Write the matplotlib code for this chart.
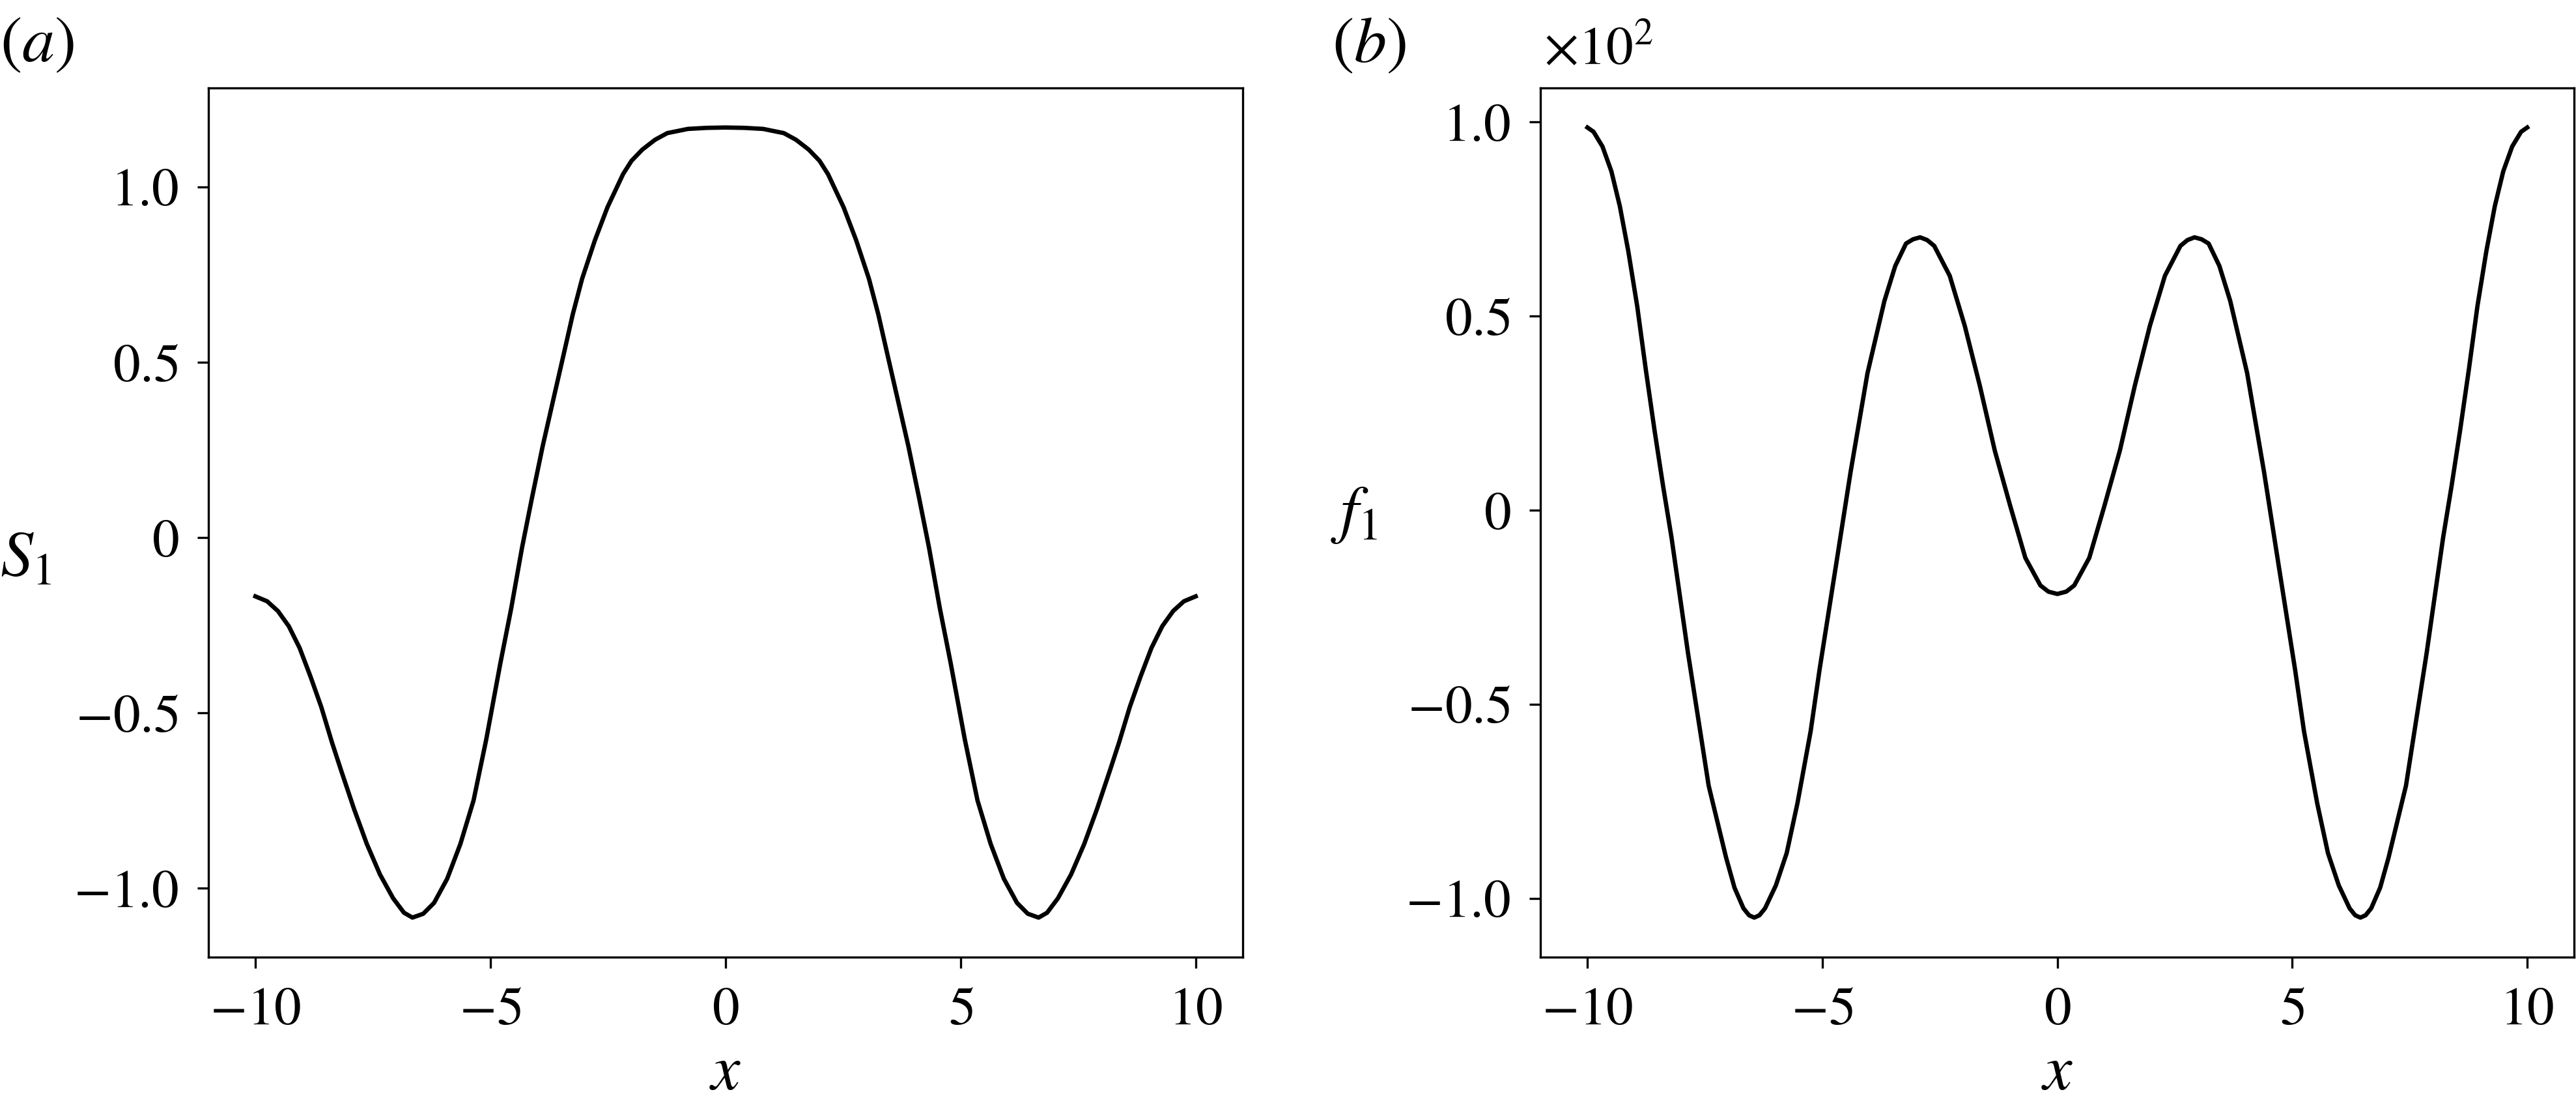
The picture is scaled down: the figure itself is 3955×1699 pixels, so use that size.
import numpy as np
import matplotlib
matplotlib.use('Agg')
import matplotlib.pyplot as plt
from matplotlib.ticker import FuncFormatter

# Fonts: Times-like text, STIX maths
plt.rcParams['font.family'] = ['Liberation Serif', 'DejaVu Serif']
plt.rcParams['mathtext.fontset'] = 'stix'
plt.rcParams['font.size'] = 20

# (a) S_1, points
x_s = [-10.0, -9.75, -9.52, -9.29, -9.06, -8.83, -8.6, -8.37, -8.18, -7.9, -7.63,
       -7.35, -7.07, -6.84, -6.66, -6.43, -6.2, -5.92, -5.64, -5.36, -5.09, -4.79,
       -4.56, -4.33, -4.12, -3.89, -3.65, -3.45, -3.25, -3.05, -2.78, -2.51, -2.18,
       -2.0, -1.77, -1.5, -1.24, -0.8, -0.4, 0.0,
       0.4, 0.8, 1.24, 1.5, 1.77, 2.0, 2.18, 2.51, 2.78, 3.05, 3.25, 3.45, 3.65,
       3.89, 4.12, 4.33, 4.56, 4.79, 5.09, 5.36, 5.64, 5.92, 6.2, 6.43, 6.66, 6.84,
       7.07, 7.35, 7.63, 7.9, 8.18, 8.37, 8.6, 8.83, 9.06, 9.29, 9.52, 9.75, 10.0]
s1 = [-0.168, -0.182, -0.21, -0.253, -0.315, -0.396, -0.483, -0.585, -0.663,
      -0.775, -0.874, -0.961, -1.029, -1.07, -1.084, -1.073, -1.042, -0.973,
      -0.874, -0.75, -0.576, -0.359, -0.203, -0.03, 0.111, 0.26, 0.401, 0.518,
      0.636, 0.738, 0.847, 0.942, 1.036, 1.074, 1.106, 1.134, 1.153, 1.165,
      1.168, 1.169,
      1.168, 1.165, 1.153, 1.134, 1.106, 1.074, 1.036, 0.942, 0.847, 0.738,
      0.636, 0.518, 0.401, 0.26, 0.111, -0.03, -0.203, -0.359, -0.576, -0.75,
      -0.874, -0.973, -1.042, -1.073, -1.084, -1.07, -1.029, -0.961, -0.874,
      -0.775, -0.663, -0.585, -0.483, -0.396, -0.315, -0.253, -0.21, -0.182,
      -0.168]

x_f = [-10.0, -9.87, -9.68, -9.49, -9.31, -9.13, -8.94, -8.76, -8.57, -8.39, -8.21,
       -7.86, -7.6, -7.42, -7.23, -7.05, -6.87, -6.68, -6.56, -6.45, -6.34, -6.22,
       -5.99, -5.76, -5.53, -5.25, -5.06, -4.71, -4.4, -4.04, -3.68, -3.45, -3.22,
       -3.07, -2.92, -2.77, -2.62, -2.29, -1.97, -1.65, -1.33, -1.0, -0.68, -0.36,
       -0.19, 0.0,
       0.19, 0.36, 0.68, 1.0, 1.33, 1.65, 1.97, 2.29, 2.62, 2.77, 2.92, 3.07,
       3.22, 3.45, 3.68, 4.04, 4.4, 4.71, 5.06, 5.25, 5.53, 5.76, 5.99, 6.22,
       6.34, 6.45, 6.56, 6.68, 6.87, 7.05, 7.23, 7.42, 7.6, 7.86, 8.21, 8.39,
       8.57, 8.76, 8.94, 9.13, 9.31, 9.49, 9.68, 9.87, 10.0]
f1 = [98.6, 97.5, 93.7, 87.3, 78.3, 66.7, 52.5, 36.4, 20.4, 6.2, -7.1, -36.8,
      -57.0, -71.0, -80.5, -89.5, -97.3, -102.6, -104.4, -105.0, -104.4, -102.6,
      -96.7, -88.4, -75.5, -57.0, -41.1, -14.2, 9.8, 35.3, 53.9, 62.9, 68.7,
      69.8, 70.3, 69.6, 68.1, 60.4, 47.5, 32.1, 15.3, 1.0, -12.3, -19.4,
      -21.0, -21.6,
      -21.0, -19.4, -12.3, 1.0, 15.3, 32.1, 47.5, 60.4, 68.1, 69.6, 70.3, 69.8,
      68.7, 62.9, 53.9, 35.3, 9.8, -14.2, -41.1, -57.0, -75.5, -88.4, -96.7,
      -102.6, -104.4, -105.0, -104.4, -102.6, -97.3, -89.5, -80.5, -71.0,
      -57.0, -36.8, -7.1, 6.2, 20.4, 36.4, 52.5, 66.7, 78.3, 87.3, 93.7, 97.5,
      98.6]

xticks = [-10, -5, 0, 5, 10]
yticks = [-1.0, -0.5, 0, 0.5, 1.0]


def fmt_num(v, scale=1.0):
    v = v / scale
    if abs(v) < 1e-9:
        return '$0$'
    return '$%.1f$' % v


def fmt_int(v, p):
    return '$%d$' % v


fig = plt.figure(figsize=(3955 / 300, 1699 / 300), dpi=300)
ax1 = fig.add_axes([0.0809, 0.1354, 0.4015, 0.7851])
ax2 = fig.add_axes([0.5980, 0.1354, 0.4013, 0.7851])

ax1.plot(x_s, s1, color='black', lw=1.6)
ax2.plot(x_f, f1, color='black', lw=1.6)

for ax in (ax1, ax2):
    ax.set_xticks(xticks)
    ax.xaxis.set_major_formatter(FuncFormatter(fmt_int))
    ax.tick_params(length=4, width=0.8, pad=7, labelsize=20)
    ax.set_xlabel('$x$', fontsize=24)
    ax.xaxis.label.set_va('baseline')
    ax.xaxis.set_label_coords(0.5, -0.152)

ax1.set_yticks(yticks)
ax1.yaxis.set_major_formatter(FuncFormatter(lambda v, p: fmt_num(v)))
ax2.set_yticks([t * 100 for t in yticks])
ax2.yaxis.set_major_formatter(FuncFormatter(lambda v, p: fmt_num(v, 100.0)))

# labels and panel tags
fig.text(0.0, 0.4932, '$S_1$', fontsize=24, ha='left', va='center')
fig.text(0.5166, 0.535, '$f_1$', fontsize=24, ha='left', va='center')
fig.text(0.0, 0.985, '$(a)$', fontsize=24, ha='left', va='top')
fig.text(0.517, 0.985, '$(b)$', fontsize=24, ha='left', va='top')
fig.text(0.5992, 0.9423, r'$\times10^{2}$', fontsize=20, ha='left', va='baseline')

fig.savefig('out.png', dpi=300)
